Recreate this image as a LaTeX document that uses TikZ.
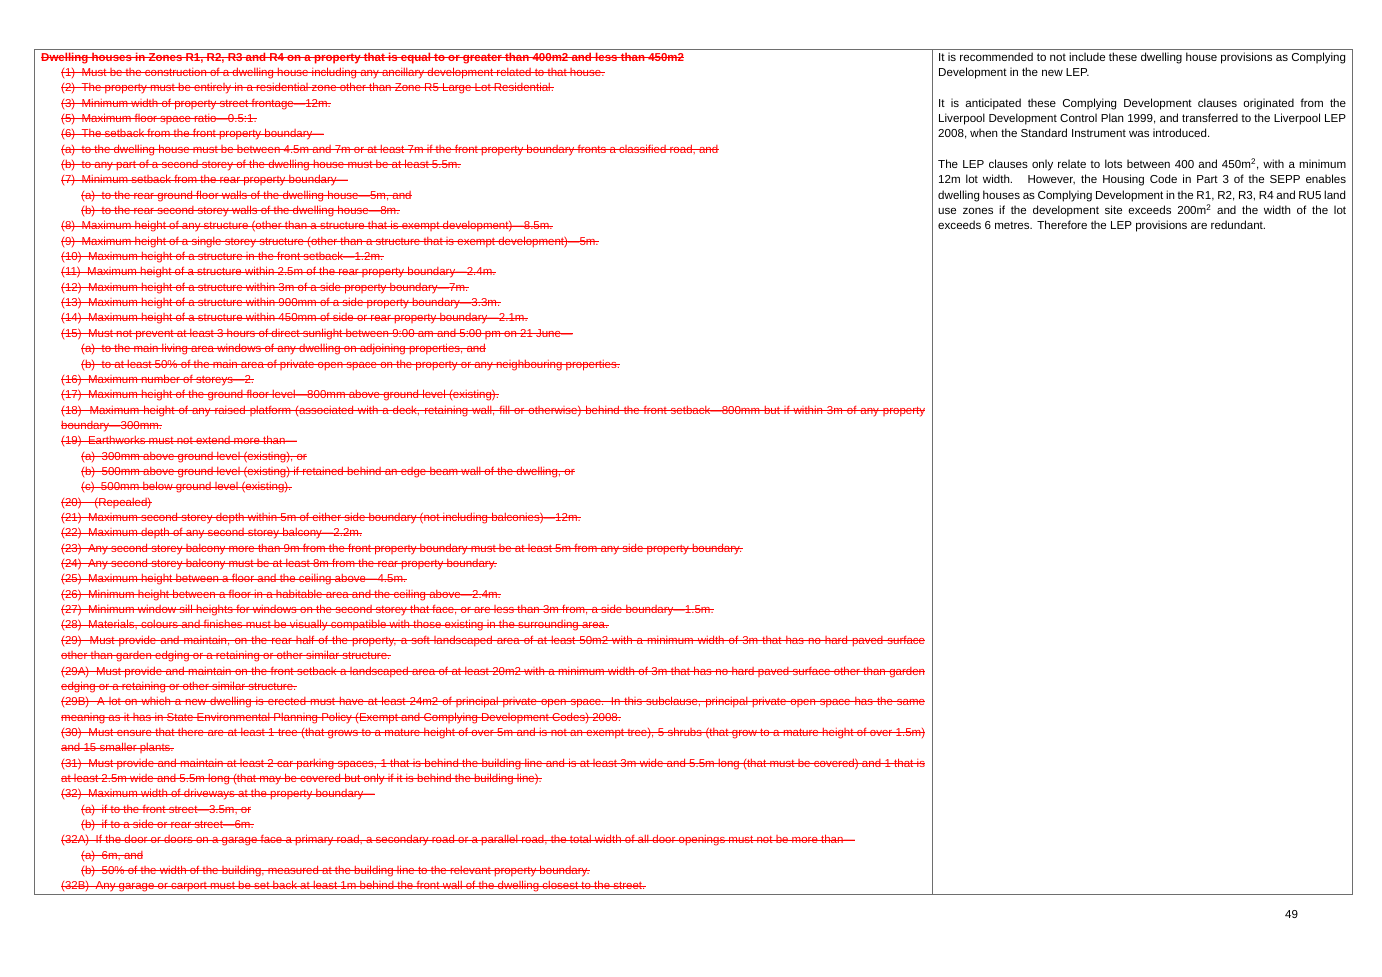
\documentclass[tikz,border=0pt]{standalone}
\usepackage{fontspec}
\setmainfont{Liberation Sans}
\definecolor{strikered}{RGB}{255,0,0}
\definecolor{framegray}{RGB}{110,110,110}
\tikzset{
  ln/.style={anchor=base west, inner sep=0, text=strikered, font=\fontsize{11.5}{13}\selectfont},
  rn/.style={anchor=base west, inner sep=0, text=black, font=\fontsize{11.6}{13}\selectfont},
}
\newcommand{\jl}[1]{\makebox[864pt][s]{#1}}
\newcommand{\jr}[1]{\makebox[408pt][s]{#1}}

\begin{document}
\begin{tikzpicture}[x=1pt,y=-1pt]
	\useasboundingbox (0,0) rectangle (1382,977);
	\draw [framegray, line width=0.8] (34,49) rectangle (1352,894);
	\draw [framegray, line width=0.8] (932,49) -- (932,894);
	% left column, struck out
	\node [ln, font=\fontsize{11.5}{13}\selectfont\bfseries] (l0) at (41, 57+15.35*0+4) {Dwelling houses in Zones R1, R2, R3 and R4 on a property that is equal to or greater than 400m2 and less than 450m2};
	\node [ln] (l1) at (61, 57+15.35*1+4) {(1)~ Must be the construction of a dwelling house including any ancillary development related to that house.};
	\node [ln] (l2) at (61, 57+15.35*2+4) {(2)~ The property must be entirely in a residential zone other than Zone R5 Large Lot Residential.};
	\node [ln] (l3) at (61, 57+15.35*3+4) {(3)~ Minimum width of property street frontage—12m.};
	\node [ln] (l4) at (61, 57+15.35*4+4) {(5)~ Maximum floor space ratio—0.5:1.};
	\node [ln] (l5) at (61, 57+15.35*5+4) {(6)~ The setback from the front property boundary—};
	\node [ln] (l6) at (61, 57+15.35*6+4) {(a)~ to the dwelling house must be between 4.5m and 7m or at least 7m if the front property boundary fronts a classified road, and};
	\node [ln] (l7) at (61, 57+15.35*7+4) {(b)~ to any part of a second storey of the dwelling house must be at least 5.5m.};
	\node [ln] (l8) at (61, 57+15.35*8+4) {(7)~ Minimum setback from the rear property boundary—};
	\node [ln] (l9) at (81, 57+15.35*9+4) {(a)~ to the rear ground floor walls of the dwelling house—5m, and};
	\node [ln] (l10) at (81, 57+15.35*10+4) {(b)~ to the rear second storey walls of the dwelling house—8m.};
	\node [ln] (l11) at (61, 57+15.35*11+4) {(8)~ Maximum height of any structure (other than a structure that is exempt development)—8.5m.};
	\node [ln] (l12) at (61, 57+15.35*12+4) {(9)~ Maximum height of a single storey structure (other than a structure that is exempt development)—5m.};
	\node [ln] (l13) at (61, 57+15.35*13+4) {(10)~ Maximum height of a structure in the front setback—1.2m.};
	\node [ln] (l14) at (61, 57+15.35*14+4) {(11)~ Maximum height of a structure within 2.5m of the rear property boundary—2.4m.};
	\node [ln] (l15) at (61, 57+15.35*15+4) {(12)~ Maximum height of a structure within 3m of a side property boundary—7m.};
	\node [ln] (l16) at (61, 57+15.35*16+4) {(13)~ Maximum height of a structure within 900mm of a side property boundary—3.3m.};
	\node [ln] (l17) at (61, 57+15.35*17+4) {(14)~ Maximum height of a structure within 450mm of side or rear property boundary—2.1m.};
	\node [ln] (l18) at (61, 57+15.35*18+4) {(15)~ Must not prevent at least 3 hours of direct sunlight between 9:00 am and 5:00 pm on 21 June—};
	\node [ln] (l19) at (81, 57+15.35*19+4) {(a)~ to the main living area windows of any dwelling on adjoining properties, and};
	\node [ln] (l20) at (81, 57+15.35*20+4) {(b)~ to at least 50\% of the main area of private open space on the property or any neighbouring properties.};
	\node [ln] (l21) at (61, 57+15.35*21+4) {(16)~ Maximum number of storeys—2.};
	\node [ln] (l22) at (61, 57+15.35*22+4) {(17)~ Maximum height of the ground floor level—800mm above ground level (existing).};
	\node [ln] (l23) at (61, 57+15.35*23+4) {\jl{(18)~ Maximum height of any raised platform (associated with a deck, retaining wall, fill or otherwise) behind the front setback—800mm but if within 3m of any property}};
	\node [ln] (l24) at (61, 57+15.35*24+4) {boundary—300mm.};
	\node [ln] (l25) at (61, 57+15.35*25+4) {(19)~ Earthworks must not extend more than—};
	\node [ln] (l26) at (81, 57+15.35*26+4) {(a)~ 300mm above ground level (existing), or};
	\node [ln] (l27) at (81, 57+15.35*27+4) {(b)~ 500mm above ground level (existing) if retained behind an edge beam wall of the dwelling, or};
	\node [ln] (l28) at (81, 57+15.35*28+4) {(c)~ 500mm below ground level (existing).};
	\node [ln] (l29) at (61, 57+15.35*29+4) {(20)~ ~ (Repealed)};
	\node [ln] (l30) at (61, 57+15.35*30+4) {(21)~ Maximum second storey depth within 5m of either side boundary (not including balconies)—12m.};
	\node [ln] (l31) at (61, 57+15.35*31+4) {(22)~ Maximum depth of any second storey balcony—2.2m.};
	\node [ln] (l32) at (61, 57+15.35*32+4) {(23)~ Any second storey balcony more than 9m from the front property boundary must be at least 5m from any side property boundary.};
	\node [ln] (l33) at (61, 57+15.35*33+4) {(24)~ Any second storey balcony must be at least 8m from the rear property boundary.};
	\node [ln] (l34) at (61, 57+15.35*34+4) {(25)~ Maximum height between a floor and the ceiling above—4.5m.};
	\node [ln] (l35) at (61, 57+15.35*35+4) {(26)~ Minimum height between a floor in a habitable area and the ceiling above—2.4m.};
	\node [ln] (l36) at (61, 57+15.35*36+4) {(27)~ Minimum window sill heights for windows on the second storey that face, or are less than 3m from, a side boundary—1.5m.};
	\node [ln] (l37) at (61, 57+15.35*37+4) {(28)~ Materials, colours and finishes must be visually compatible with those existing in the surrounding area.};
	\node [ln] (l38) at (61, 57+15.35*38+4) {\jl{(29)~ Must provide and maintain, on the rear half of the property, a soft landscaped area of at least 50m2 with a minimum width of 3m that has no hard paved surface}};
	\node [ln] (l39) at (61, 57+15.35*39+4) {other than garden edging or a retaining or other similar structure.};
	\node [ln] (l40) at (61, 57+15.35*40+4) {\jl{(29A)~ Must provide and maintain on the front setback a landscaped area of at least 20m2 with a minimum width of 3m that has no hard paved surface other than garden}};
	\node [ln] (l41) at (61, 57+15.35*41+4) {edging or a retaining or other similar structure.};
	\node [ln] (l42) at (61, 57+15.35*42+4) {\jl{(29B)~ A lot on which a new dwelling is erected must have at least 24m2 of principal private open space. In this subclause, principal private open space has the same}};
	\node [ln] (l43) at (61, 57+15.35*43+4) {meaning as it has in State Environmental Planning Policy (Exempt and Complying Development Codes) 2008.};
	\node [ln] (l44) at (61, 57+15.35*44+4) {\jl{(30)~ Must ensure that there are at least 1 tree (that grows to a mature height of over 5m and is not an exempt tree), 5 shrubs (that grow to a mature height of over 1.5m)}};
	\node [ln] (l45) at (61, 57+15.35*45+4) {and 15 smaller plants.};
	\node [ln] (l46) at (61, 57+15.35*46+4) {\jl{(31)~ Must provide and maintain at least 2 car parking spaces, 1 that is behind the building line and is at least 3m wide and 5.5m long (that must be covered) and 1 that is}};
	\node [ln] (l47) at (61, 57+15.35*47+4) {at least 2.5m wide and 5.5m long (that may be covered but only if it is behind the building line).};
	\node [ln] (l48) at (61, 57+15.35*48+4) {(32)~ Maximum width of driveways at the property boundary—};
	\node [ln] (l49) at (81, 57+15.35*49+4) {(a)~ if to the front street—3.5m, or};
	\node [ln] (l50) at (81, 57+15.35*50+4) {(b)~ if to a side or rear street—6m.};
	\node [ln] (l51) at (61, 57+15.35*51+4) {(32A)~ If the door or doors on a garage face a primary road, a secondary road or a parallel road, the total width of all door openings must not be more than—};
	\node [ln] (l52) at (81, 57+15.35*52+4) {(a)~ 6m, and};
	\node [ln] (l53) at (81, 57+15.35*53+4) {(b)~ 50\% of the width of the building, measured at the building line to the relevant property boundary.};
	\node [ln] (l54) at (61, 57+15.35*54+4) {(32B)~ Any garage or carport must be set back at least 1m behind the front wall of the dwelling closest to the street.};
	\foreach \i in {0,...,54}
		\draw [strikered, line width=0.7] ([yshift=3.9pt]l\i.base west) -- ([yshift=3.9pt]l\i.base east);
	% right column, comments
	\node [rn] (r0) at (938, 57+15.35*0+4) {\jr{It is recommended to not include these dwelling house provisions as Complying}};
	\node [rn] (r1) at (938, 57+15.35*1+4) {Development in the new LEP.};
	\node [rn] (r2) at (938, 57+15.35*3+4) {\jr{It is anticipated these Complying Development clauses originated from the}};
	\node [rn] (r3) at (938, 57+15.35*4+4) {\jr{Liverpool Development Control Plan 1999, and transferred to the Liverpool LEP}};
	\node [rn] (r4) at (938, 57+15.35*5+4) {2008, when the Standard Instrument was introduced.};
	\node [rn] (r5) at (938, 57+15.35*7+4) {\jr{The LEP clauses only relate to lots between 400 and 450m\textsuperscript{2}, with a minimum}};
	\node [rn] (r6) at (938, 57+15.35*8+4) {\jr{12m lot width.~ However, the Housing Code in Part 3 of the SEPP enables}};
	\node [rn] (r7) at (938, 57+15.35*9+4) {\jr{dwelling houses as Complying Development in the R1, R2, R3, R4 and RU5 land}};
	\node [rn] (r8) at (938, 57+15.35*10+4) {\jr{use zones if the development site exceeds 200m\textsuperscript{2} and the width of the lot}};
	\node [rn] (r9) at (938, 57+15.35*11+4) {exceeds 6 metres. Therefore the LEP provisions are redundant.};
	\node [rn] (pg) at (1285, 914+4) {49};
\end{tikzpicture}
\end{document}
